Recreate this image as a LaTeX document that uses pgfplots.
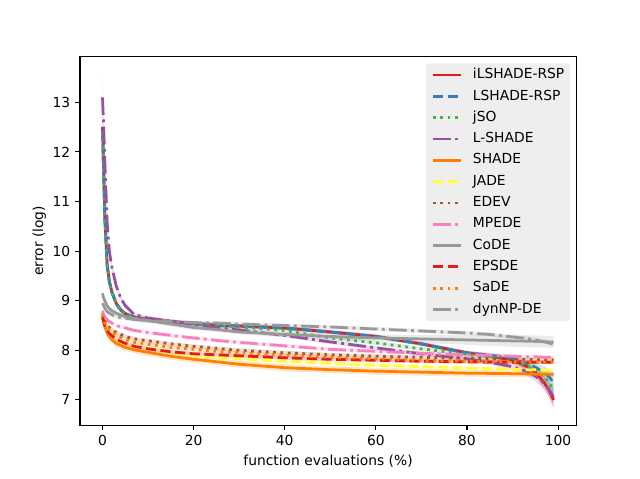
\documentclass[border=0pt]{standalone}
\usepackage{pgfplots}
\pgfplotsset{compat=1.18}
\usepackage{pgfplotstable}
\usepgfplotslibrary{fillbetween}
\usepackage{fontspec}
\setmainfont{DejaVu Sans}
\definecolor{cred}{HTML}{E41A1C}
\definecolor{cblue}{HTML}{377EB8}
\definecolor{cgreen}{HTML}{4DAF4A}
\definecolor{cpurple}{HTML}{984EA3}
\definecolor{corange}{HTML}{FF7F00}
\definecolor{cyellow}{HTML}{FFFF33}
\definecolor{cbrown}{HTML}{A65628}
\definecolor{cpink}{HTML}{F781BF}
\definecolor{cgray}{HTML}{999999}
\definecolor{legbg}{HTML}{EAEAEA}
\tikzset{
  mdash/.style={dash pattern=on 7.4pt off 3.2pt},
  mdot/.style={dash pattern=on 2pt off 3.3pt},
  mdashdot/.style={dash pattern=on 12.8pt off 3.2pt on 2pt off 3.2pt},
}
\pgfplotstableread{
x A B C D E F G H I J K L eG eD eE eI eO
0 12.5 12.45 12.4 13.1 8.65 8.7 8.75 8.8 9.15 8.68 8.72 8.95 0.25 0.4 0.07 0.08 0.05
0.25 11.6 11.55 11.5 12.5 8.56 8.6 8.67 8.72 9.05 8.58 8.62 8.9 0.2 0.35 0.07 0.07 0.05
0.5 10.7 10.65 10.6 11.8 8.48 8.53 8.6 8.67 9.0 8.5 8.55 8.85 0.15 0.3 0.07 0.06 0.05
1 9.75 9.72 9.7 10.6 8.35 8.42 8.52 8.62 8.9 8.4 8.48 8.78 0.1 0.2 0.07 0.05 0.04
1.5 9.4 9.38 9.36 10.0 8.28 8.35 8.46 8.58 8.84 8.34 8.42 8.75 0.08 0.15 0.07 0.05 0.04
2 9.2 9.18 9.17 9.7 8.22 8.3 8.42 8.55 8.8 8.3 8.38 8.72 0.06 0.1 0.07 0.05 0.04
3 8.95 8.94 8.93 9.3 8.14 8.22 8.36 8.5 8.75 8.22 8.3 8.68 0.05 0.08 0.07 0.05 0.04
4 8.82 8.81 8.8 9.05 8.1 8.17 8.32 8.47 8.71 8.18 8.26 8.66 0.04 0.06 0.07 0.05 0.04
5 8.74 8.73 8.73 8.9 8.06 8.13 8.28 8.45 8.68 8.14 8.22 8.65 0.04 0.05 0.07 0.05 0.04
7 8.67 8.66 8.66 8.72 8.01 8.08 8.23 8.4 8.64 8.08 8.16 8.62 0.04 0.04 0.07 0.05 0.04
10 8.62 8.61 8.61 8.65 7.96 8.04 8.19 8.36 8.6 8.03 8.12 8.6 0.04 0.04 0.07 0.05 0.04
15 8.58 8.57 8.57 8.59 7.88 7.96 8.13 8.3 8.53 7.97 8.06 8.58 0.04 0.04 0.07 0.05 0.04
20 8.54 8.54 8.53 8.52 7.82 7.9 8.08 8.25 8.46 7.93 8.02 8.56 0.04 0.04 0.07 0.05 0.04
25 8.51 8.51 8.5 8.46 7.77 7.86 8.04 8.2 8.42 7.91 7.98 8.55 0.04 0.04 0.07 0.05 0.04
30 8.49 8.49 8.47 8.41 7.72 7.83 8.0 8.16 8.37 7.89 7.95 8.53 0.04 0.04 0.07 0.05 0.04
40 8.45 8.45 8.4 8.3 7.65 7.78 7.95 8.09 8.32 7.85 7.9 8.5 0.04 0.04 0.07 0.05 0.04
50 8.37 8.37 8.25 8.17 7.61 7.74 7.91 8.02 8.28 7.82 7.86 8.47 0.04 0.04 0.07 0.06 0.04
60 8.28 8.28 8.15 8.05 7.58 7.7 7.88 7.98 8.25 7.8 7.83 8.43 0.04 0.04 0.07 0.07 0.04
70 8.13 8.13 8.03 7.93 7.56 7.67 7.86 7.94 8.23 7.78 7.8 8.39 0.04 0.04 0.07 0.08 0.04
80 7.95 7.95 7.92 7.83 7.54 7.64 7.84 7.91 8.21 7.77 7.78 8.35 0.04 0.04 0.07 0.1 0.04
85 7.89 7.9 7.86 7.76 7.535 7.63 7.83 7.9 8.2 7.765 7.775 8.32 0.05 0.05 0.07 0.11 0.04
90 7.8 7.84 7.79 7.67 7.53 7.62 7.82 7.88 8.19 7.76 7.77 8.27 0.06 0.06 0.07 0.12 0.04
93 7.68 7.74 7.7 7.58 7.525 7.61 7.82 7.87 8.185 7.76 7.765 8.24 0.08 0.08 0.07 0.12 0.04
95 7.56 7.66 7.61 7.48 7.52 7.61 7.81 7.87 8.18 7.76 7.765 8.21 0.1 0.1 0.07 0.12 0.04
97 7.34 7.55 7.46 7.33 7.52 7.6 7.81 7.86 8.175 7.76 7.76 8.17 0.13 0.13 0.07 0.12 0.04
98 7.2 7.47 7.35 7.21 7.52 7.6 7.81 7.86 8.17 7.76 7.76 8.15 0.15 0.15 0.07 0.12 0.04
99 7.0 7.35 7.2 7.06 7.52 7.6 7.81 7.86 8.17 7.76 7.76 8.12 0.18 0.18 0.07 0.12 0.04
}\data
\newcommand{\band}[3]{%
  \addplot[draw=none, forget plot, name path=#1u] table[x=x, y expr=\thisrow{#1}+\thisrow{#2}]{\data};
  \addplot[draw=none, forget plot, name path=#1l] table[x=x, y expr=\thisrow{#1}-\thisrow{#2}]{\data};
  \addplot[fill=#3, fill opacity=0.2, draw=none, forget plot] fill between[of=#1u and #1l];
}
\begin{document}
\begin{tikzpicture}
\begin{axis}[
  at={(0pt,0pt)}, anchor=south west, scale only axis,
  width=358.5pt, height=266.7pt,
  xmin=-4.95, xmax=103.95, ymin=6.49, ymax=13.93,
  xtick={0,20,40,60,80,100}, ytick={7,8,9,10,11,12,13},
  tick align=outside, tick pos=left, major tick length=3.5pt,
  every tick/.style={black, line width=0.8pt},
  axis line style={line width=0.8pt},
  tick label style={font=\fontsize{10}{12}\selectfont},
  label style={font=\fontsize{10}{12}\selectfont},
  ylabel style={yshift=-2pt},
  /pgf/number format/assume math mode=true,
  xlabel={function evaluations (\%)}, ylabel={error (log)},
  legend cell align=left,
  legend style={at={(0.988,0.981)}, anchor=north east, fill=legbg, fill opacity=0.8, text opacity=1,
    draw=none, rounded corners=2pt, font=\fontsize{10}{12}\selectfont,
    inner xsep=4pt, inner ysep=3.5pt, row sep=5.7pt, column sep=8pt,
    nodes={inner sep=0pt, text height=7.5pt, text depth=2.2pt}},
  legend image code/.code={\draw[#1, line width=2pt, opacity=1] (0pt,0pt) -- (20pt,0pt);},
  every axis plot/.append style={line width=2pt},
]
\band{A}{eG}{cred}
\band{B}{eG}{cblue}
\band{C}{eG}{cgreen}
\band{D}{eD}{cpurple}
\band{E}{eE}{corange}
\band{F}{eO}{cyellow}
\band{G}{eO}{cbrown}
\band{H}{eO}{cpink}
\band{I}{eI}{cgray}
\band{J}{eO}{cred}
\band{K}{eO}{corange}
\band{L}{eO}{cgray}
\addplot[cred] table[x=x,y=A]{\data}; \addlegendentry{iLSHADE-RSP}
\addplot[cblue, mdash] table[x=x,y=B]{\data}; \addlegendentry{LSHADE-RSP}
\addplot[cgreen, mdot] table[x=x,y=C]{\data}; \addlegendentry{jSO}
\addplot[cpurple, mdashdot] table[x=x,y=D]{\data}; \addlegendentry{L-SHADE}
\addplot[corange] table[x=x,y=E]{\data}; \addlegendentry{SHADE}
\addplot[cyellow, mdash] table[x=x,y=F]{\data}; \addlegendentry{JADE}
\addplot[cbrown, mdot] table[x=x,y=G]{\data}; \addlegendentry{EDEV}
\addplot[cpink, mdashdot] table[x=x,y=H]{\data}; \addlegendentry{MPEDE}
\addplot[cgray] table[x=x,y=I]{\data}; \addlegendentry{CoDE}
\addplot[cred, mdash] table[x=x,y=J]{\data}; \addlegendentry{EPSDE}
\addplot[corange, mdot] table[x=x,y=K]{\data}; \addlegendentry{SaDE}
\addplot[cgray, mdashdot] table[x=x,y=L]{\data}; \addlegendentry{dynNP-DE}
\end{axis}
\pgfresetboundingbox
\useasboundingbox (-57.8pt,-38.3pt) rectangle (404.7pt,307.3pt);
\end{tikzpicture}
\end{document}
